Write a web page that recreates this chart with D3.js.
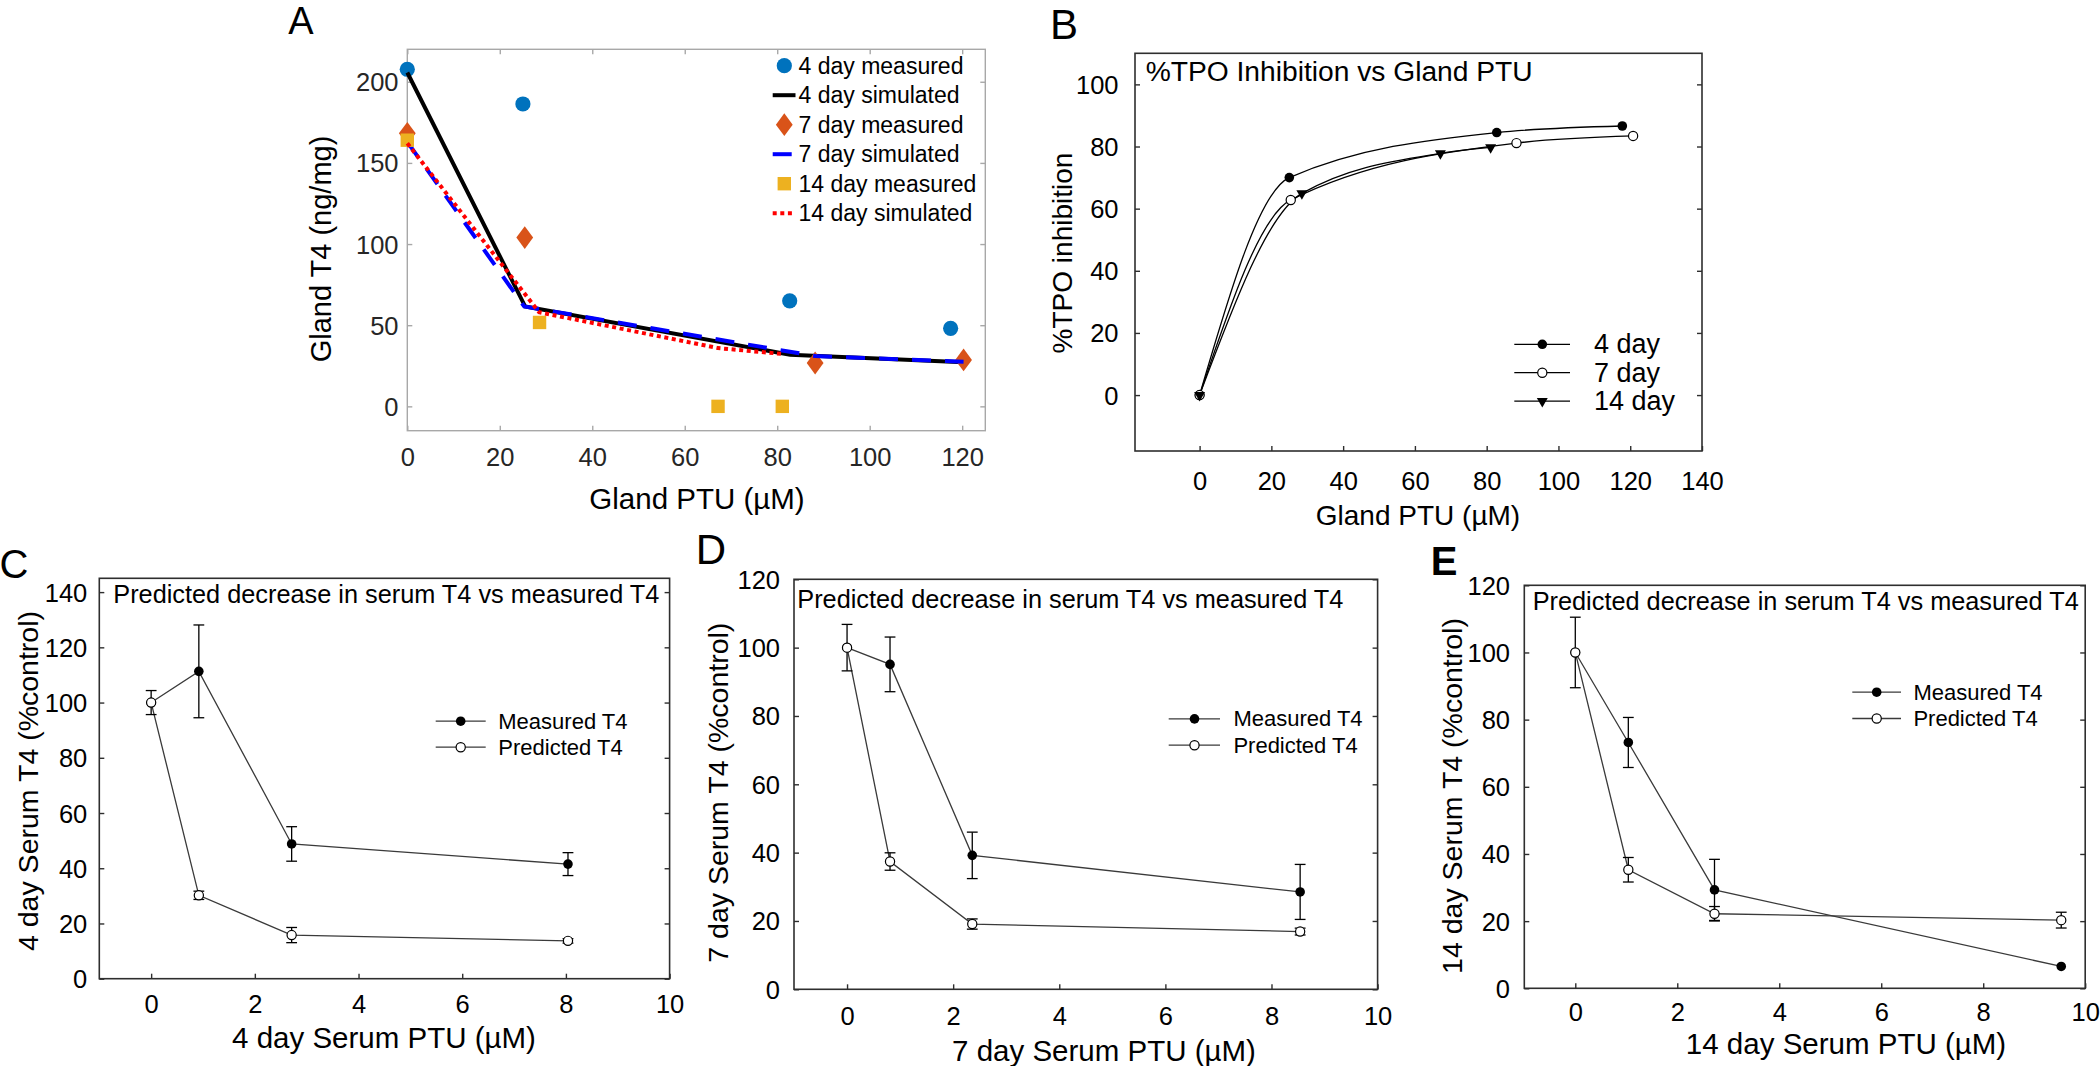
<!DOCTYPE html>
<html lang="en">
<head>
<meta charset="UTF-8">
<title>Gland and serum T4 vs PTU</title>
<script src="https://d3js.org/d3.v7.min.js"></script>
<style>
  body { margin: 0; background: #fff; }
  svg text { font-family: "Liberation Sans", Arial, Helvetica, sans-serif; }
</style>
</head>
<body>
<svg id="fig" width="2100" height="1066"></svg>
<script>
// ---- Panel A: gland T4 against gland PTU
var glandPtu4 = [0, 25.0, 82.7, 117.5];
var glandT4Meas4 = [207.7, 186.3, 65.0, 48.1];
var glandPtu7 = [0, 25.4, 88.2, 120.3];
var glandT4Meas7 = [168.2, 104.0, 26.7, 28.6];
var glandPtu14 = [0, 28.6, 67.2, 81.1];
var glandT4Meas14 = [164.0, 51.7, 0, 0];
var simPtu4 = [0, 25.5, 82.8, 120.3];
var glandT4Sim4 = [205.7, 61.5, 31.8, 27.2];
var simPtu7 = [0, 25.3, 88.2, 120.3];
var glandT4Sim7 = [163.0, 61.5, 31.0, 27.5];
var simPtu14 = [0, 28.5, 67.2, 81.1];
var glandT4Sim14 = [162.1, 58.0, 35.9, 32.3];
var glandXTicks = [0, 20, 40, 60, 80, 100, 120];
var glandYTicks = [0, 50, 100, 150, 200];
var legendA = ["4 day measured", "4 day simulated", "7 day measured",
               "7 day simulated", "14 day measured", "14 day simulated"];

// ---- Panel B: %TPO inhibition against gland PTU
var tpoPtu4 = [0, 25.0, 82.8, 117.8];
var tpoInh4 = [0, 70.0, 84.5, 86.6];
var tpoPtu7 = [0, 25.4, 88.3, 120.8];
var tpoInh7 = [0, 62.8, 81.1, 83.4];
var tpoPtu14 = [0, 28.5, 67.1, 81.1];
var tpoInh14 = [0, 64.9, 77.8, 79.7];
var tpoXTicks = [0, 20, 40, 60, 80, 100, 120, 140];
var tpoYTicks = [0, 20, 40, 60, 80, 100];
var legendB = ["4 day", "7 day", "14 day"];

// ---- Panels C, D, E: serum T4 (%control) against serum PTU
var ptu4 = [0, 0.92, 2.71, 8.04];
var meas4 = [100, 111.3, 48.8, 41.5];
var meas4Err = [4.35, 16.8, 6.25, 4.15];
var pred4 = [100, 30.2, 15.8, 13.7];
var pred4Err = [0, 1.5, 2.75, 0.8];

var ptu7 = [0, 0.81, 2.36, 8.54];
var meas7 = [100, 95.1, 39.2, 28.5];
var meas7Err = [6.8, 8.0, 6.8, 8.05];
var pred7 = [100, 37.4, 19.1, 16.9];
var pred7Err = [0, 2.55, 1.5, 1.0];

var ptu14 = [0, 1.04, 2.73, 9.53];
var meas14 = [100, 73.2, 29.3, 6.5];
var meas14Err = [10.5, 7.45, 9.1, 0];
var pred14 = [100, 35.3, 22.2, 20.3];
var pred14Err = [0, 3.65, 2.15, 2.35];

var serumXTicks = [0, 2, 4, 6, 8, 10];
var serumYTicksC = [0, 20, 40, 60, 80, 100, 120, 140];
var serumYTicks = [0, 20, 40, 60, 80, 100, 120];
var legendSerum = ["Measured T4", "Predicted T4"];
var serumTitle = "Predicted decrease in serum T4 vs measured T4";

var svg = d3.select("#fig");

function zip(xs, ys) { return xs.map(function(v, i) { return [v, ys[i]]; }); }

// frame, inward ticks and tick labels
function axes(box, x, y, xt, yt, st) {
  var g = svg.append("g");
  g.append("rect")
    .attr("x", box.left).attr("y", box.top)
    .attr("width", box.right - box.left).attr("height", box.bottom - box.top)
    .attr("fill", "none").attr("stroke", st.frame).attr("stroke-width", st.frameWidth);

  var bottom = g.append("g").attr("transform", "translate(0," + box.bottom + ")")
    .call(d3.axisBottom(x).tickValues(xt).tickSize(-5).tickFormat(d3.format("d")));
  var left = g.append("g").attr("transform", "translate(" + box.left + ",0)")
    .call(d3.axisLeft(y).tickValues(yt).tickSize(-5).tickFormat(d3.format("d")));
  var right = g.append("g").attr("transform", "translate(" + box.right + ",0)")
    .call(d3.axisRight(y).tickValues(yt).tickSize(-5).tickFormat(""));
  var all = [bottom, left, right];
  if (st.topTicks) {
    all.push(g.append("g").attr("transform", "translate(0," + box.top + ")")
      .call(d3.axisTop(x).tickValues(xt).tickSize(-5).tickFormat("")));
  }
  all.forEach(function(a) {
    a.select(".domain").remove();
    a.selectAll(".tick line").attr("stroke", st.frame).attr("stroke-width", st.tickWidth);
  });
  bottom.selectAll("text")
    .attr("y", st.xTickY - box.bottom).attr("dy", null)
    .attr("dominant-baseline", "central")
    .attr("font-size", st.tickSize).attr("fill", st.text);
  left.selectAll("text")
    .attr("x", st.yTickRight - box.left).attr("dy", null)
    .attr("dominant-baseline", "central")
    .attr("font-size", st.tickSize).attr("fill", st.text);
}

function text(str, x, y, size, anchor, extra) {
  var t = svg.append("text")
    .attr("x", x).attr("y", y)
    .attr("font-size", size)
    .attr("text-anchor", anchor || "middle")
    .attr("dominant-baseline", "central")
    .attr("fill", (extra && extra.fill) || "#000")
    .text(str);
  if (extra && extra.weight) t.attr("font-weight", extra.weight);
  return t;
}

function vtext(str, x, y, size, fill) {
  svg.append("text")
    .attr("transform", "translate(" + x + "," + y + ") rotate(-90)")
    .attr("font-size", size)
    .attr("text-anchor", "middle")
    .attr("dominant-baseline", "central")
    .attr("fill", fill || "#000")
    .text(str);
}

// marker shapes (centred on 0,0)
function diamondPath(hw, hh) {
  return "M0," + (-hh) + "L" + hw + ",0L0," + hh + "L" + (-hw) + ",0Z";
}
function addMarker(g, kind, cx, cy, color) {
  if (kind === "dot") {
    g.append("circle").attr("cx", cx).attr("cy", cy).attr("r", 7.6).attr("fill", color);
  } else if (kind === "diamond") {
    g.append("path").attr("d", diamondPath(8.4, 11.4))
      .attr("transform", "translate(" + cx + "," + cy + ")").attr("fill", color);
  } else if (kind === "square") {
    g.append("rect").attr("x", cx - 6.7).attr("y", cy - 6.7)
      .attr("width", 13.4).attr("height", 13.4).attr("fill", color);
  } else if (kind === "filled") {
    g.append("circle").attr("cx", cx).attr("cy", cy).attr("r", 4.8).attr("fill", "#000");
  } else if (kind === "open") {
    g.append("circle").attr("cx", cx).attr("cy", cy).attr("r", 4.6)
      .attr("fill", "#fff").attr("stroke", "#000").attr("stroke-width", 1.2);
  } else if (kind === "tri") {
    g.append("path").attr("d", d3.symbol(d3.symbolTriangle, 52)())
      .attr("transform", "translate(" + cx + "," + cy + ") rotate(180)").attr("fill", "#000");
  }
}

// ================= Panel A =================
(function() {
  var box = {left: 407.3, right: 985.3, top: 49.3, bottom: 430.7};
  var x = d3.scaleLinear().domain([0, 125]).range([box.left, box.right]);
  var y = d3.scaleLinear().domain([-15, 220]).range([box.bottom, box.top]);
  axes(box, x, y, glandXTicks, glandYTicks, {
    frame: "#a8a8a8", frameWidth: 1.4, tickWidth: 1.4, topTicks: true,
    text: "#262626", tickSize: 25.5, xTickY: 457.5, yTickRight: 398.5
  });

  var line = d3.line().x(function(d) { return x(d[0]); }).y(function(d) { return y(d[1]); });
  var g = svg.append("g");
  var series = [
    {kind: "dot", color: "#0072BD", pts: zip(glandPtu4, glandT4Meas4)},
    {line: true, color: "#000000", dash: null, pts: zip(simPtu4, glandT4Sim4)},
    {kind: "diamond", color: "#D95319", pts: zip(glandPtu7, glandT4Meas7)},
    {line: true, color: "#0000FF", dash: "19,14", pts: zip(simPtu7, glandT4Sim7)},
    {kind: "square", color: "#EDB120", pts: zip(glandPtu14, glandT4Meas14)},
    {line: true, color: "#FF0000", dash: "4,3.6", pts: zip(simPtu14, glandT4Sim14)}
  ];
  series.forEach(function(s) {
    if (s.line) {
      g.append("path").attr("d", line(s.pts)).attr("fill", "none")
        .attr("stroke", s.color).attr("stroke-width", 4)
        .attr("stroke-dasharray", s.dash);
    } else {
      s.pts.forEach(function(p) { addMarker(g, s.kind, x(p[0]), y(p[1]), s.color); });
    }
  });

  // legend
  var lg = svg.append("g");
  series.forEach(function(s, i) {
    var ly = 65.7 + i * 29.5;
    if (s.line) {
      lg.append("line").attr("x1", 772.7).attr("x2", 795.5).attr("y1", ly).attr("y2", ly)
        .attr("stroke", s.color).attr("stroke-width", 4).attr("stroke-dasharray", s.dash);
    } else {
      addMarker(lg, s.kind, 784.3, ly, s.color);
    }
    text(legendA[i], 798.5, ly, 23, "start");
  });

  text("A", 301, 21, 38);
  text("Gland PTU (\u00b5M)", 697, 498.5, 29.5);
  vtext("Gland T4 (ng/mg)", 321, 249, 29);
})();

// ================= Panel B =================
(function() {
  var box = {left: 1135, right: 1702, top: 53.3, bottom: 451};
  var x = d3.scaleLinear().domain([-18, 140]).range([box.left, box.right]);
  var y = d3.scaleLinear().domain([-18, 110]).range([box.bottom, box.top]);
  axes(box, x, y, tpoXTicks, tpoYTicks, {
    frame: "#2e2e2e", frameWidth: 1.6, tickWidth: 1.4, topTicks: false,
    text: "#000", tickSize: 25.5, xTickY: 480.5, yTickRight: 1118.5
  });
  var line = d3.line().curve(d3.curveMonotoneX)
    .x(function(d) { return x(d[0]); }).y(function(d) { return y(d[1]); });
  var g = svg.append("g");
  var series = [
    {kind: "filled", pts: zip(tpoPtu4, tpoInh4)},
    {kind: "open", pts: zip(tpoPtu7, tpoInh7)},
    {kind: "tri", pts: zip(tpoPtu14, tpoInh14)}
  ];
  series.forEach(function(s) {
    g.append("path").attr("d", line(s.pts)).attr("fill", "none")
      .attr("stroke", "#000").attr("stroke-width", 1.3);
  });
  series.forEach(function(s) {
    s.pts.forEach(function(p) { addMarker(g, s.kind, x(p[0]), y(p[1])); });
  });
  series.forEach(function(s, i) {
    var ly = 344.3 + i * 28.4;
    g.append("line").attr("x1", 1514.3).attr("x2", 1570).attr("y1", ly).attr("y2", ly)
      .attr("stroke", "#000").attr("stroke-width", 1.3);
    addMarker(g, s.kind, 1542.3, ly);
    text(legendB[i], 1594, ly, 27, "start");
  });
  text("%TPO Inhibition vs Gland PTU", 1145.7, 70.5, 28.2, "start");
  text("B", 1064, 24, 42);
  text("Gland PTU (\u00b5M)", 1418, 515, 28);
  vtext("%TPO inhibition", 1062.5, 253, 28);
})();

// ================= Panels C, D, E =================
var serumPanels = [
  {letter: "C", bold: false, letterPos: [14, 564], letterSize: 40,
   box: {left: 99.3, right: 669.6, top: 578.3, bottom: 978.7}, yMax: 145, yTicks: serumYTicksC,
   ptu: ptu4, meas: meas4, measErr: meas4Err, pred: pred4, predErr: pred4Err,
   xTickY: 1004.5, yTickRight: 87.3, titleY: 594.3, titleX: 113.3,
   legX: [435.7, 460.7, 485.7, 498.3], legY: [721.2, 747.2],
   xLabel: "4 day Serum PTU (\u00b5M)", xLabelPos: [384, 1037],
   yLabel: "4 day Serum T4 (%control)", yLabelPos: [28.3, 781]},
  {letter: "D", bold: false, letterPos: [711, 549.5], letterSize: 42,
   box: {left: 794, right: 1377.6, top: 579.3, bottom: 989.3}, yMax: 120, yTicks: serumYTicks,
   ptu: ptu7, meas: meas7, measErr: meas7Err, pred: pred7, predErr: pred7Err,
   xTickY: 1016, yTickRight: 780, titleY: 599.3, titleX: 797.3,
   legX: [1168.7, 1194.5, 1220, 1233.4], legY: [718.9, 745.2],
   xLabel: "7 day Serum PTU (\u00b5M)", xLabelPos: [1104, 1050],
   yLabel: "7 day Serum T4 (%control)", yLabelPos: [718.3, 792.7]},
  {letter: "E", bold: true, letterPos: [1444, 561], letterSize: 40,
   box: {left: 1524.3, right: 2085.2, top: 585.3, bottom: 988.3}, yMax: 120, yTicks: serumYTicks,
   ptu: ptu14, meas: meas14, measErr: meas14Err, pred: pred14, predErr: pred14Err,
   xTickY: 1012.3, yTickRight: 1510, titleY: 600.5, titleX: 1532.7,
   legX: [1852.3, 1876.7, 1901, 1913.4], legY: [692.2, 718.5],
   xLabel: "14 day Serum PTU (\u00b5M)", xLabelPos: [1846, 1043.5],
   yLabel: "14 day Serum T4 (%control)", yLabelPos: [1451.7, 796]}
];

serumPanels.forEach(function(p) {
  var box = p.box;
  var x = d3.scaleLinear().domain([-1, 10]).range([box.left, box.right]);
  var y = d3.scaleLinear().domain([0, p.yMax]).range([box.bottom, box.top]);
  axes(box, x, y, serumXTicks, p.yTicks, {
    frame: "#2e2e2e", frameWidth: 1.6, tickWidth: 1.4, topTicks: false,
    text: "#000", tickSize: 25.5, xTickY: p.xTickY, yTickRight: p.yTickRight
  });
  var line = d3.line().x(function(d) { return x(d[0]); }).y(function(d) { return y(d[1]); });
  var g = svg.append("g");
  var measPts = zip(p.ptu, p.meas), predPts = zip(p.ptu, p.pred);
  [measPts, predPts].forEach(function(pts) {
    g.append("path").attr("d", line(pts)).attr("fill", "none")
      .attr("stroke", "#3a3a3a").attr("stroke-width", 1.3);
  });
  // error bars
  [[p.meas, p.measErr], [p.pred, p.predErr]].forEach(function(pair) {
    pair[0].forEach(function(v, i) {
      var e = pair[1][i];
      if (!e) return;
      var cx = x(p.ptu[i]), y1 = y(v + e), y2 = y(v - e);
      g.append("line").attr("x1", cx).attr("x2", cx).attr("y1", y1).attr("y2", y2)
        .attr("stroke", "#000").attr("stroke-width", 1.3);
      [y1, y2].forEach(function(yy) {
        g.append("line").attr("x1", cx - 5.4).attr("x2", cx + 5.4).attr("y1", yy).attr("y2", yy)
          .attr("stroke", "#000").attr("stroke-width", 1.3);
      });
    });
  });
  measPts.forEach(function(d) { addMarker(g, "filled", x(d[0]), y(d[1])); });
  predPts.forEach(function(d) { addMarker(g, "open", x(d[0]), y(d[1])); });

  // legend
  ["filled", "open"].forEach(function(kind, i) {
    var ly = p.legY[i];
    g.append("line").attr("x1", p.legX[0]).attr("x2", p.legX[2]).attr("y1", ly).attr("y2", ly)
      .attr("stroke", "#3a3a3a").attr("stroke-width", 1.3);
    addMarker(g, kind, p.legX[1], ly);
    text(legendSerum[i], p.legX[3], ly, 22, "start");
  });

  text(serumTitle, p.titleX, p.titleY, 25.3, "start");
  text(p.letter, p.letterPos[0], p.letterPos[1], p.letterSize, "middle",
       p.bold ? {weight: "bold"} : null);
  text(p.xLabel, p.xLabelPos[0], p.xLabelPos[1], 29.5);
  vtext(p.yLabel, p.yLabelPos[0], p.yLabelPos[1], 28.5);
});
</script>
</body>
</html>
